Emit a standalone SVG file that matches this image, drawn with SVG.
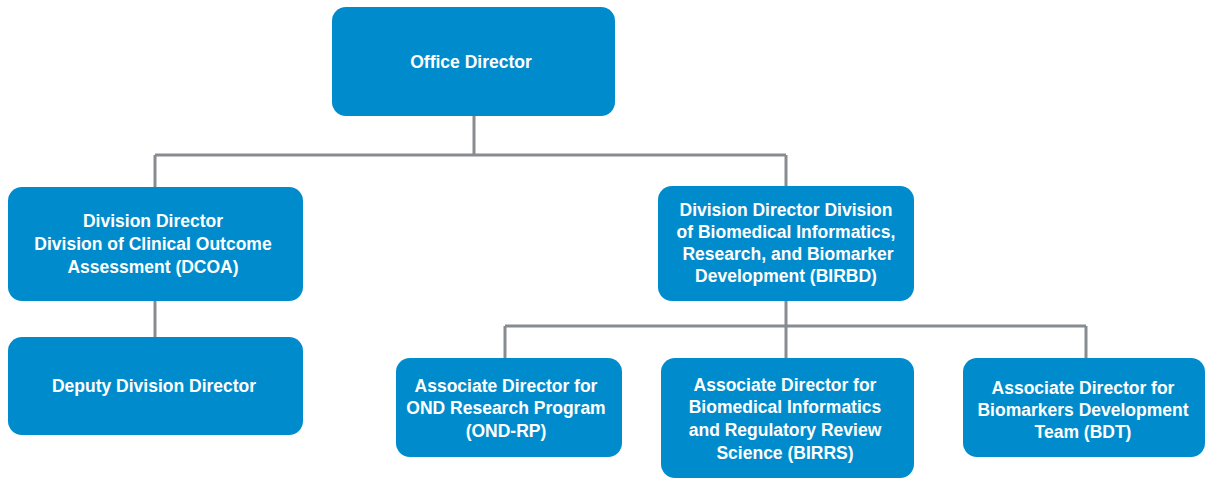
<svg xmlns="http://www.w3.org/2000/svg" width="1207" height="479" viewBox="0 0 1207 479">
<style>
.box{fill:#008ccc;}
.lbl{font-family:"Liberation Sans",Arial,sans-serif;font-weight:bold;font-size:17.5px;fill:#ffffff;text-anchor:middle;}
.conn{fill:none;stroke:#878c91;stroke-width:3;}
</style>
<rect width="1207" height="479" fill="#ffffff"/>
<g id="connectors">
<path class="conn" d="M474,116 V155 M155,155 H786 M155,155 V187 M786,155 V186"/>
<path class="conn" d="M155,301 V337"/>
<path class="conn" d="M786,301 V358 M505,326 H1086 M505,326 V358 M1086,326 V358"/>
</g>
<g id="office-director">
<rect class="box" x="332" y="7" width="283" height="109" rx="14"/>
<text class="lbl" x="471" y="68">Office Director</text>
</g>
<g id="dcoa">
<rect class="box" x="8" y="187" width="295" height="114" rx="14"/>
<text class="lbl" x="153" y="227">Division Director</text>
<text class="lbl" x="153" y="250">Division of Clinical Outcome</text>
<text class="lbl" x="153" y="273">Assessment (DCOA)</text>
</g>
<g id="deputy">
<rect class="box" x="8" y="337" width="295" height="98" rx="14"/>
<text class="lbl" x="154" y="392">Deputy Division Director</text>
</g>
<g id="birbd">
<rect class="box" x="658" y="186" width="256" height="115" rx="14"/>
<text class="lbl" x="786" y="216">Division Director Division</text>
<text class="lbl" x="786" y="238">of Biomedical Informatics,</text>
<text class="lbl" x="788" y="260">Research, and Biomarker</text>
<text class="lbl" x="786" y="282">Development (BIRBD)</text>
</g>
<g id="ond-rp">
<rect class="box" x="396" y="358" width="226" height="99" rx="14"/>
<text class="lbl" x="506" y="392">Associate Director for</text>
<text class="lbl" x="506" y="414">OND Research Program</text>
<text class="lbl" x="506" y="437">(OND-RP)</text>
</g>
<g id="birrs">
<rect class="box" x="661" y="358" width="253" height="120" rx="14"/>
<text class="lbl" x="785" y="391">Associate Director for</text>
<text class="lbl" x="785" y="413">Biomedical Informatics</text>
<text class="lbl" x="785" y="436">and Regulatory Review</text>
<text class="lbl" x="785" y="459">Science (BIRRS)</text>
</g>
<g id="bdt">
<rect class="box" x="963" y="358" width="242" height="99" rx="14"/>
<text class="lbl" x="1083" y="394">Associate Director for</text>
<text class="lbl" x="1083" y="416">Biomarkers Development</text>
<text class="lbl" x="1083" y="438">Team (BDT)</text>
</g>
</svg>
